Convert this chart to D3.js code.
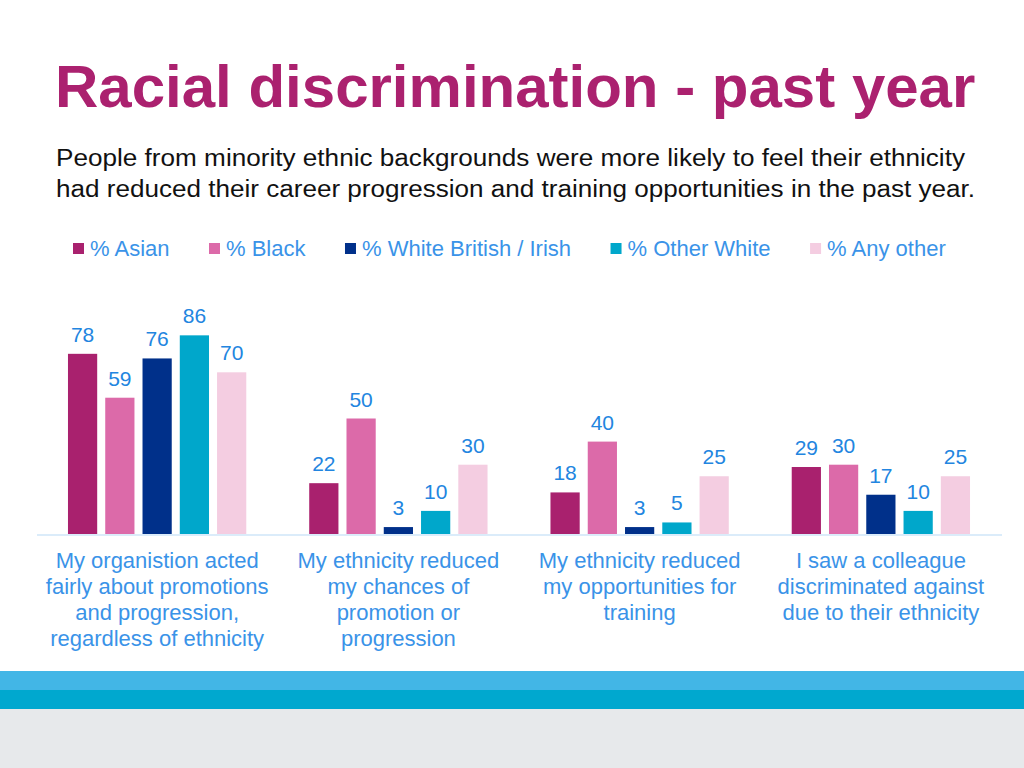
<!DOCTYPE html>
<html>
<head>
<meta charset="utf-8">
<script src="https://cdn.jsdelivr.net/npm/d3@7"></script>
<style>
  html, body { margin: 0; padding: 0; background: #ffffff; }
  svg { display: block; font-family: "Liberation Sans", Arial, Helvetica, sans-serif; }
</style>
</head>
<body>
<svg id="chart" width="1024" height="768"></svg>
<script>
// ---- Data ----
const categories = [
  "My organistion acted|fairly about promotions|and progression,|regardless of ethnicity",
  "My ethnicity reduced|my chances of|promotion or|progression",
  "My ethnicity reduced|my opportunities for|training",
  "I saw a colleague|discriminated against|due to their ethnicity"
];
const seriesNames = ["% Asian", "% Black", "% White British / Irish", "% Other White", "% Any other"];
const asian = [78, 22, 18, 29];
const black = [59, 50, 40, 30];
const whiteBritish = [76, 3, 3, 17];
const otherWhite = [86, 10, 5, 10];
const anyOther = [70, 30, 25, 25];
const seriesValues = [asian, black, whiteBritish, otherWhite, anyOther];
const seriesColors = ["#a9216e", "#dc6aa9", "#00308a", "#00a7cb", "#f4cde1"];
const titleText = "Racial discrimination - past year";
const subtitleLines = [
  "People from minority ethnic backgrounds were more likely to feel their ethnicity",
  "had reduced their career progression and training opportunities in the past year."
];

// ---- Layout ----
const svg = d3.select("#chart");
const W = 1024, H = 768;
const labelColor = "#2285e0";
const textBlue = "#3a93e8";

// bottom decorative bands
svg.append("rect").attr("x", 0).attr("y", 671).attr("width", W).attr("height", 20).attr("fill", "#42b6e6");
svg.append("rect").attr("x", 0).attr("y", 690).attr("width", W).attr("height", 19).attr("fill", "#00a8cf");
svg.append("rect").attr("x", 0).attr("y", 709).attr("width", W).attr("height", 59).attr("fill", "#e7e9eb");

// title
svg.append("text").attr("x", 55).attr("y", 107)
  .attr("font-size", 60).attr("font-weight", "bold").attr("fill", "#ab216f")
  .text(titleText);

// subtitle (fitted to the reference line widths)
const subWidths = [909, 919];
svg.append("g").selectAll("text").data(subtitleLines).join("text")
  .attr("x", 56).attr("y", (d, i) => 166 + i * 31)
  .attr("font-size", 23.5).attr("fill", "#111")
  .attr("textLength", (d, i) => subWidths[i]).attr("lengthAdjust", "spacingAndGlyphs")
  .text(d => d);

// legend (flow layout)
const legend = svg.append("g");
let lx = 73;
seriesNames.forEach((name, i) => {
  legend.append("rect").attr("x", lx).attr("y", 243).attr("width", 11).attr("height", 11)
    .attr("fill", seriesColors[i]);
  const t = legend.append("text").attr("x", lx + 17).attr("y", 256)
    .attr("font-size", 22).attr("fill", textBlue).text(name);
  lx = lx + 17 + t.node().getComputedTextLength() + 39.5;
});

// scales
const x0 = d3.scaleBand().domain(d3.range(categories.length))
  .range([36.5, 1001.5]).paddingInner(0.23).paddingOuter(0.115);
const x1 = d3.scaleBand().domain(d3.range(seriesNames.length))
  .range([0, x0.bandwidth()]).paddingInner(0.216).paddingOuter(0.1);
const y = d3.scaleLinear().domain([0, 100]).range([534, 303]);

// baseline axis
const xAxis = d3.axisBottom(x0).tickSize(0).tickFormat("");
const axG = svg.append("g").attr("transform", "translate(0,534.5)").call(xAxis);
axG.select(".domain").attr("stroke", "#cfe6f8").attr("stroke-width", 1.5);

// bars
const groups = svg.append("g").selectAll("g").data(categories).join("g")
  .attr("transform", (d, i) => `translate(${x0(i)},0)`);

groups.each(function(cat, ci) {
  const g = d3.select(this);
  const vals = seriesValues.map((s, si) => ({ si, v: s[ci] }));
  g.selectAll("rect").data(vals).join("rect")
    .attr("x", d => x1(d.si)).attr("width", x1.bandwidth())
    .attr("y", d => y(d.v)).attr("height", d => y(0) - y(d.v))
    .attr("fill", d => seriesColors[d.si]);
  g.selectAll("text.val").data(vals).join("text").attr("class", "val")
    .attr("x", d => x1(d.si) + x1.bandwidth() / 2)
    .attr("y", d => y(d.v) - 12)
    .attr("text-anchor", "middle").attr("font-size", 21).attr("fill", labelColor)
    .text(d => d.v);
});

// category labels
svg.append("g").selectAll("text").data(categories).join("text")
  .attr("text-anchor", "middle").attr("font-size", 22).attr("fill", textBlue)
  .attr("transform", (d, i) => `translate(${x0(i) + x0.bandwidth() / 2},0)`)
  .each(function(d) {
    d3.select(this).selectAll("tspan").data(d.split("|")).join("tspan")
      .attr("x", 0).attr("y", (l, j) => 568 + j * 26).text(l => l);
  });
</script>
</body>
</html>
